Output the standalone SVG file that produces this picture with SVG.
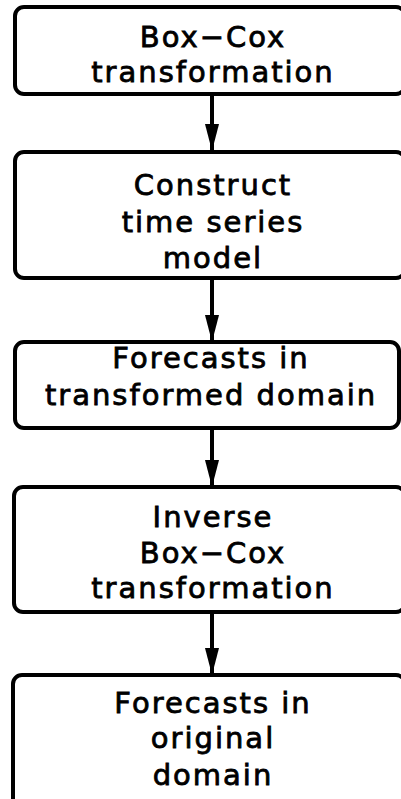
<svg xmlns="http://www.w3.org/2000/svg" width="401" height="799" viewBox="0 0 401 799">
<style>
.box{fill:#fff;stroke:#000;stroke-width:4}
.lbl{font-family:"DejaVu Sans",sans-serif;font-size:29px;letter-spacing:2px;text-anchor:middle;fill:#000;stroke:#000;stroke-width:0.8px}
.con{stroke:#000;stroke-width:4;fill:none}
</style>
<defs>
<marker id="ah" markerUnits="userSpaceOnUse" markerWidth="28" markerHeight="15" refX="27" refY="7" orient="auto" viewBox="0 0 28 15">
<path d="M0,0 L27,7 L0,14 z" fill="#000"/>
</marker>
</defs>
<rect width="401" height="799" fill="#fff"/>
<g id="connectors">
<line class="con" x1="212" y1="94" x2="212" y2="151" marker-end="url(#ah)"/>
<line class="con" x1="212" y1="278" x2="212" y2="342" marker-end="url(#ah)"/>
<line class="con" x1="212" y1="428" x2="212" y2="487" marker-end="url(#ah)"/>
<line class="con" x1="212" y1="612" x2="212" y2="675" marker-end="url(#ah)"/>
</g>
<g id="n1">
<rect class="box" x="15" y="7" width="390" height="87" rx="9"/>
<text class="lbl" x="213" y="47">Box−Cox</text>
<text class="lbl" x="213" y="82">transformation</text>
</g>
<g id="n2">
<rect class="box" x="15" y="152" width="390" height="126" rx="9"/>
<text class="lbl" x="213" y="195">Construct</text>
<text class="lbl" x="213" y="232">time series</text>
<text class="lbl" x="213" y="268">model</text>
</g>
<g id="n3">
<rect class="box" x="15" y="342" width="384" height="86" rx="9"/>
<text class="lbl" x="211" y="368">Forecasts in</text>
<text class="lbl" x="211" y="405">transformed domain</text>
</g>
<g id="n4">
<rect class="box" x="14" y="487" width="391" height="125" rx="9"/>
<text class="lbl" x="213" y="527">Inverse</text>
<text class="lbl" x="213" y="563">Box−Cox</text>
<text class="lbl" x="213" y="598">transformation</text>
</g>
<g id="n5">
<rect class="box" x="13" y="675" width="392" height="135" rx="9"/>
<text class="lbl" x="213" y="713">Forecasts in</text>
<text class="lbl" x="213" y="748">original</text>
<text class="lbl" x="213" y="785">domain</text>
</g>
</svg>
